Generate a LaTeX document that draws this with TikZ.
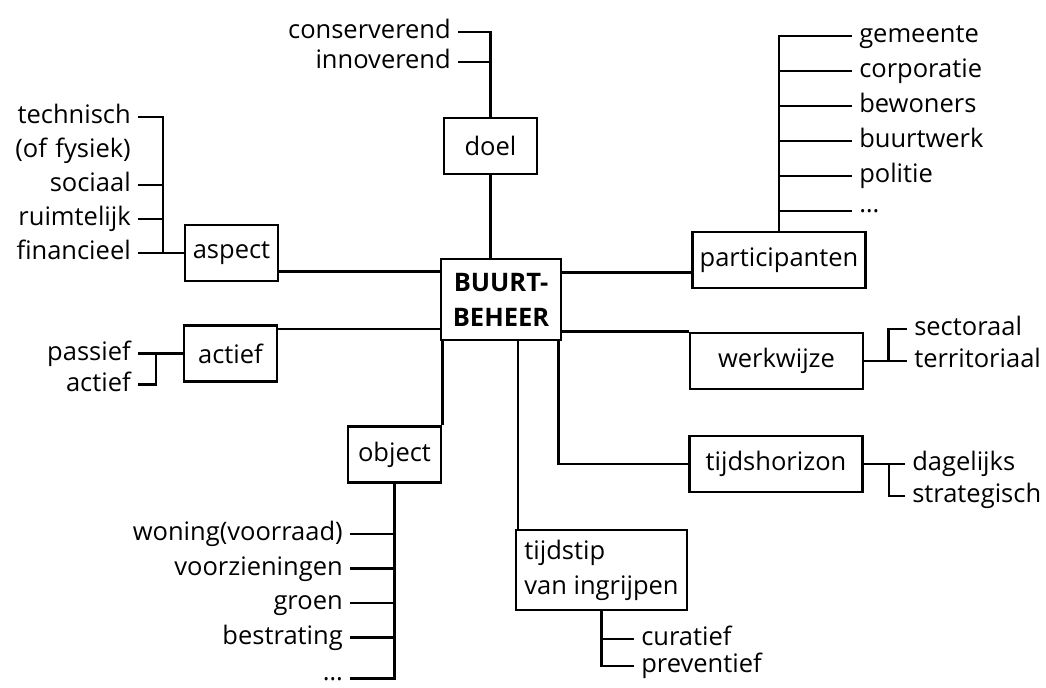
\documentclass[tikz,border=0pt]{standalone}
\usepackage{fontspec}
\setmainfont{Open Sans}
\usepackage{tikz}

\begin{document}
\begin{tikzpicture}[x=0.5pt,y=-0.5pt,line width=1.25pt,node distance=17pt,
                        box/.style={draw,inner sep=0pt,minimum width=46.5pt,minimum height=28pt,
                                    font=\fontsize{12.75}{17.5}\selectfont},
                        wide box/.style={box,minimum width=86.5pt},
                        hub/.style={box,minimum width=60pt,minimum height=40.5pt,align=center,
                                    font=\fontsize{12.75}{17.5}\selectfont\bfseries},
                        leaf/.style={inner xsep=3pt,inner ysep=0pt,text height=10pt,text depth=3pt,
                                     font=\fontsize{12.75}{17.5}\selectfont},
                        left leaf/.style={leaf,text width=115pt,align=right},
                        right leaf/.style={leaf,text width=70pt,align=left}]

        \fill[white] (0,0) rectangle (1046,688);
        \useasboundingbox (0,0) rectangle (1046,688);

        \node[hub] (buurt) at (501,299.5) {BUURT-\\BEHEER};

        \node[box] (doel) at (490.5,146) {doel};
        \node[box] (aspect) at (231.5,253) {aspect};
        \node[box] (actief) at (230.5,353.5) {actief};
        \node[box] (object) at (394.5,454.5) {object};
        \node[wide box] (participanten) at (779,260) {participanten};
        \node[wide box] (werkwijze) at (776.5,361) {werkwijze};
        \node[wide box] (tijdshorizon) at (776,464) {tijdshorizon};
        \node[wide box,minimum width=85.5pt,minimum height=40pt,align=left] (tijdstip) at (601.5,570) {tijdstip\\van ingrijpen};

        \node[left leaf,anchor=east] (conserverend) at (458,32) {conserverend};
        \node[left leaf,node distance=15pt,below of=conserverend] (innoverend) {innoverend};

        \node[left leaf,anchor=east] (technisch) at (138,117) {technisch};
        \node[left leaf,below of=technisch] (fysiek) {(of fysiek)};
        \node[left leaf,below of=fysiek] (sociaal) {sociaal};
        \node[left leaf,below of=sociaal] (ruimtelijk) {ruimtelijk};
        \node[left leaf,below of=ruimtelijk] (financieel) {financieel};

        \node[left leaf,anchor=east] (passief) at (138,353.5) {passief};
        \node[left leaf,node distance=15.5pt,below of=passief] (actiefopt) {actief};

        \node[left leaf,anchor=east] (woning) at (350,534) {woning(voorraad)};
        \node[left leaf,node distance=17.25pt,below of=woning] (voorzieningen) {voorzieningen};
        \node[left leaf,node distance=17.25pt,below of=voorzieningen] (groen) {groen};
        \node[left leaf,node distance=17.25pt,below of=groen] (bestrating) {bestrating};
        \node[left leaf,node distance=20.5pt,below of=bestrating] (objectrest) {\raisebox{2.5pt}{\dots}};

        \node[right leaf,anchor=west] (gemeente) at (852,36) {gemeente};
        \node[right leaf,node distance=17.5pt,below of=gemeente] (corporatie) {corporatie};
        \node[right leaf,node distance=17.5pt,below of=corporatie] (bewoners) {bewoners};
        \node[right leaf,node distance=17.5pt,below of=bewoners] (buurtwerk) {buurtwerk};
        \node[right leaf,node distance=17.5pt,below of=buurtwerk] (politie) {politie};
        \node[right leaf,node distance=17.5pt,below of=politie] (partrest) {\raisebox{2.5pt}{\dots}};

        \node[right leaf,anchor=west] (sectoraal) at (907,329) {sectoraal};
        \node[right leaf,node distance=16pt,below of=sectoraal] (territoriaal) {territoriaal};

        \node[right leaf,anchor=west] (dagelijks) at (905,464) {dagelijks};
        \node[right leaf,node distance=16pt,below of=dagelijks] (strategisch) {strategisch};

        \node[right leaf,anchor=west] (curatief) at (634,639) {curatief};
        \node[right leaf,node distance=13.5pt,below of=curatief] (preventief) {preventief};

        % spokes of the hub
        \coordinate (hubW1) at ([yshift=-7pt]buurt.north west);
        \coordinate (hubW2) at ([yshift=6pt]buurt.south west);
        \coordinate (hubE1) at ([yshift=-7.5pt]buurt.north east);
        \coordinate (hubS1) at ([xshift=39pt]buurt.south west);
        \coordinate (hubS2) at ([xshift=-2pt]buurt.south east);
        \draw (doel.south) -- (doel.south |- buurt.north);
        \draw (hubW1) -- (hubW1 -| aspect.east);
        \draw (hubW2) -- (hubW2 -| actief.east);
        \draw (hubE1) -- (hubE1 -| participanten.west);
        \draw (werkwijze.north west) -- (werkwijze.north west -| buurt.east);
        \draw (object.north east) -- (object.north east |- buurt.south);
        \draw (hubS1) -- (hubS1 |- tijdstip.north);
        \draw (hubS2) |- (tijdshorizon.west);

        % doel
        \draw (conserverend.east) -| (doel.north);
        \draw (innoverend.east) -- (innoverend.east -| doel.north);

        % aspect
        \coordinate (aspectjoin) at ([xshift=-10.5pt]aspect.west);
        \draw (technisch.east) -| (aspectjoin);
        \draw (sociaal.east) -- (sociaal.east -| aspectjoin);
        \draw (ruimtelijk.east) -- (ruimtelijk.east -| aspectjoin);
        \draw (financieel.east) -- (aspect.west);

        % actief
        \coordinate (actiefjoin) at ([xshift=-13.5pt]actief.west);
        \draw (passief.east) -- (actief.west);
        \draw (actiefopt.east) -| (actiefjoin);

        % object
        \draw (objectrest.east) -| (object.south);
        \draw (woning.east) -- (woning.east -| object.south);
        \draw (voorzieningen.east) -- (voorzieningen.east -| object.south);
        \draw (groen.east) -- (groen.east -| object.south);
        \draw (bestrating.east) -- (bestrating.east -| object.south);

        % participanten
        \draw (gemeente.west) -| (participanten.north);
        \draw (corporatie.west) -- (corporatie.west -| participanten.north);
        \draw (bewoners.west) -- (bewoners.west -| participanten.north);
        \draw (buurtwerk.west) -- (buurtwerk.west -| participanten.north);
        \draw (politie.west) -- (politie.west -| participanten.north);
        \draw (partrest.west) -- (partrest.west -| participanten.north);

        % werkwijze
        \coordinate (werkjoin) at ([xshift=12pt]werkwijze.east);
        \draw (werkwijze.east) -- (territoriaal.west);
        \draw (sectoraal.west) -| (werkjoin);

        % tijdshorizon
        \coordinate (horizonjoin) at ([xshift=12.5pt]tijdshorizon.east);
        \draw (tijdshorizon.east) -- (dagelijks.west);
        \draw (strategisch.west) -| (horizonjoin);

        % tijdstip
        \draw (preventief.west) -| (tijdstip.south);
        \draw (curatief.west) -- (curatief.west -| tijdstip.south);
    \end{tikzpicture}
\end{document}
